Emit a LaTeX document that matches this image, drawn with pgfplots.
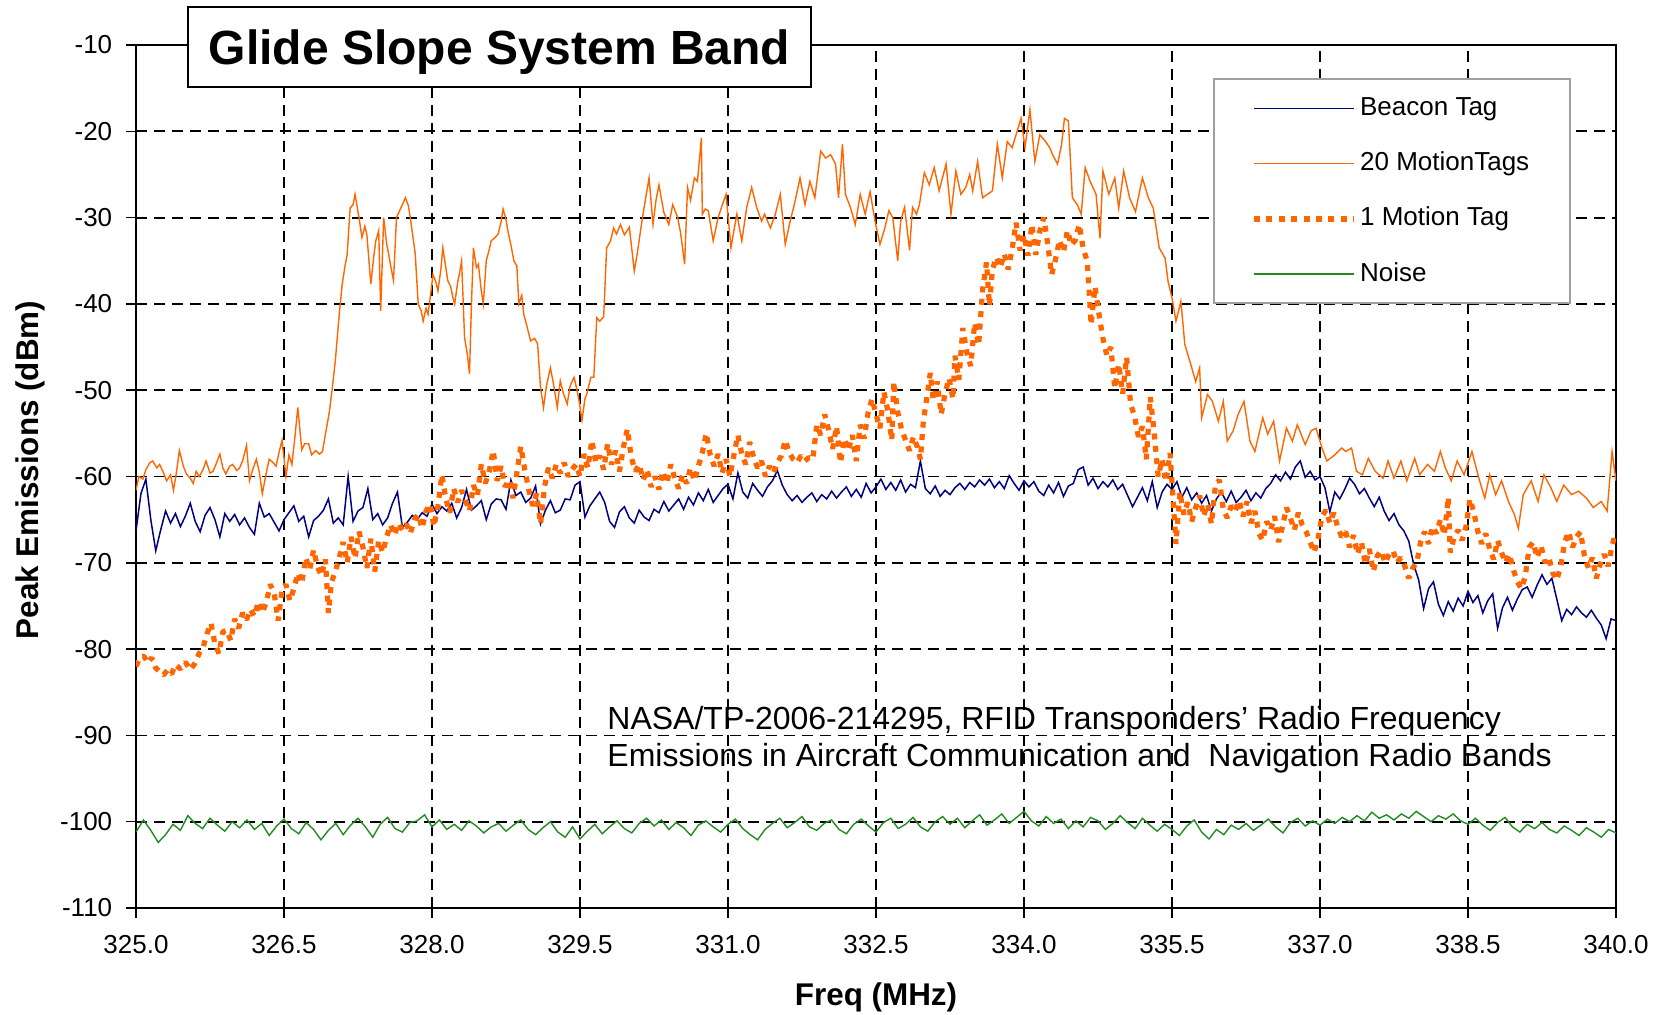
\documentclass[border=0pt]{standalone}
\usepackage{fontspec}
\setmainfont{Liberation Sans}
\usepackage{pgfplots}
\pgfplotsset{compat=1.18}
\definecolor{navyc}{RGB}{0,0,128}
\definecolor{orng}{RGB}{255,102,0}
\definecolor{grn}{RGB}{34,139,34}
\definecolor{legframe}{RGB}{160,160,160}
\begin{document}
\begin{tikzpicture}
\useasboundingbox (0,0) rectangle (833pt,507pt);
\begin{axis}[
  at={(68pt,53pt)}, anchor=south west,
  scale only axis, width=740pt, height=431.5pt,
  xmin=325, xmax=340, ymin=-110, ymax=-10,
  xtick={325,326.5,328,329.5,331,332.5,334,335.5,337,338.5,340},
  ytick={-110,-100,-90,-80,-70,-60,-50,-40,-30,-20,-10},
  /pgf/number format/assume math mode=true,
  xticklabel style={/pgf/number format/.cd, fixed, fixed zerofill, precision=1, /tikz/.cd, inner sep=0pt, yshift=-8.7pt},
  yticklabel style={inner sep=0pt, xshift=-6.7pt},
  ticklabel style={font=\fontsize{13}{15}\selectfont},
  xtick pos=left, ytick pos=left,
  tick align=outside, major tick length=5pt,
  tick style={black, line width=0.75pt},
  axis line style={black, line width=1pt},
  grid=major,
  major grid style={black, line width=0.9pt, dash pattern=on 5.3pt off 3.7pt},
  xlabel={Freq (MHz)},
  ylabel={Peak Emissions (dBm)},
  xlabel style={at={(axis description cs:0.5,-0.1031)}, anchor=center, font=\fontsize{15.7}{18}\selectfont\bfseries},
  ylabel style={at={(axis description cs:-0.0715,0.5075)}, anchor=center, font=\fontsize{15.7}{18}\selectfont\bfseries},
  legend image code/.code={\draw[#1] (0pt,0pt) -- (50pt,0pt);},
  legend cell align=left,
  legend style={at={(0.728,0.9614)}, anchor=north west, draw=legframe, line width=1pt,
    font=\fontsize{13}{15}\selectfont, inner xsep=18.5pt, inner ysep=6.85pt, row sep=12.1pt,
    nodes={inner sep=1.75pt, text height=9.5pt, text depth=2.5pt}},
]
\addplot[navyc, line width=0.75pt] coordinates {
(325.00,-66.3)(325.05,-62.0)(325.10,-60.3)(325.15,-65.0)(325.20,-68.6)(325.25,-66.2)(325.30,-64.0)(325.35,-65.4)(325.40,-64.3)(325.45,-65.8)
(325.50,-64.6)(325.55,-63.1)(325.60,-65.2)(325.65,-66.4)(325.70,-64.5)(325.75,-63.6)(325.80,-65.0)(325.85,-67.0)(325.90,-64.3)(325.95,-65.2)
(326.00,-64.4)(326.05,-65.6)(326.10,-64.8)(326.15,-65.9)(326.20,-66.7)(326.25,-63.1)(326.30,-64.7)(326.35,-64.3)(326.40,-65.3)(326.45,-66.3)
(326.50,-65.0)(326.55,-64.2)(326.60,-63.4)(326.65,-65.2)(326.70,-64.6)(326.75,-67.0)(326.80,-65.1)(326.85,-64.6)(326.90,-63.9)(326.95,-62.6)
(327.00,-65.4)(327.05,-64.8)(327.10,-65.6)(327.15,-60.0)(327.20,-65.2)(327.25,-64.0)(327.30,-63.6)(327.35,-61.4)(327.40,-65.0)(327.45,-64.3)
(327.50,-65.6)(327.55,-64.8)(327.60,-63.1)(327.65,-61.8)(327.70,-65.9)(327.75,-65.3)(327.80,-64.5)(327.85,-65.0)(327.90,-64.2)(327.95,-64.6)
(328.00,-63.2)(328.05,-64.3)(328.10,-63.5)(328.15,-64.0)(328.20,-63.1)(328.25,-64.8)(328.30,-63.6)(328.35,-61.5)(328.40,-63.9)(328.45,-63.4)
(328.50,-62.8)(328.55,-65.0)(328.60,-63.2)(328.65,-62.6)(328.70,-62.7)(328.75,-63.8)(328.80,-60.4)(328.85,-62.2)(328.90,-61.8)(328.95,-63.0)
(329.00,-62.5)(329.05,-61.1)(329.10,-65.5)(329.15,-63.9)(329.20,-62.8)(329.25,-64.2)(329.30,-63.9)(329.35,-62.6)(329.40,-62.7)(329.45,-61.0)
(329.50,-60.6)(329.55,-64.7)(329.60,-63.4)(329.65,-62.6)(329.70,-61.8)(329.75,-63.0)(329.80,-65.2)(329.85,-65.9)(329.90,-64.1)(329.95,-63.5)
(330.00,-64.8)(330.05,-65.4)(330.10,-63.9)(330.15,-64.7)(330.20,-65.1)(330.25,-63.8)(330.30,-64.2)(330.35,-62.9)(330.40,-64.0)(330.45,-63.3)
(330.50,-62.6)(330.55,-63.8)(330.60,-62.4)(330.65,-63.3)(330.70,-61.9)(330.75,-62.8)(330.80,-61.5)(330.85,-63.0)(330.90,-62.2)(330.95,-61.4)
(331.00,-60.9)(331.05,-62.6)(331.10,-59.6)(331.15,-61.8)(331.20,-62.5)(331.25,-60.8)(331.30,-61.6)(331.35,-62.3)(331.40,-61.2)(331.45,-60.5)
(331.50,-59.3)(331.55,-61.0)(331.60,-62.1)(331.65,-62.8)(331.70,-62.2)(331.75,-63.0)(331.80,-62.4)(331.85,-61.9)(331.90,-62.9)(331.95,-62.1)
(332.00,-62.6)(332.05,-61.7)(332.10,-62.5)(332.15,-61.8)(332.20,-61.2)(332.25,-62.3)(332.30,-61.5)(332.35,-62.4)(332.40,-60.8)(332.45,-61.9)
(332.50,-61.2)(332.55,-60.3)(332.60,-61.5)(332.65,-60.7)(332.70,-61.6)(332.75,-60.4)(332.80,-61.8)(332.85,-60.9)(332.90,-61.3)(332.95,-58.2)
(333.00,-61.4)(333.05,-62.0)(333.10,-61.1)(333.15,-62.3)(333.20,-61.6)(333.25,-62.1)(333.30,-61.3)(333.35,-60.8)(333.40,-61.5)(333.45,-60.7)
(333.50,-61.2)(333.55,-60.4)(333.60,-61.0)(333.65,-60.3)(333.70,-61.3)(333.75,-60.6)(333.80,-61.4)(333.85,-59.9)(333.90,-60.8)(333.95,-61.6)
(334.00,-60.5)(334.05,-61.2)(334.10,-60.6)(334.15,-61.7)(334.20,-62.2)(334.25,-61.0)(334.30,-61.9)(334.35,-60.7)(334.40,-62.3)(334.45,-61.1)
(334.50,-60.8)(334.55,-59.2)(334.60,-58.9)(334.65,-61.0)(334.70,-60.2)(334.75,-61.4)(334.80,-60.6)(334.85,-61.2)(334.90,-60.4)(334.95,-61.5)
(335.00,-60.9)(335.05,-62.2)(335.10,-63.5)(335.15,-62.4)(335.20,-61.3)(335.25,-62.8)(335.30,-60.6)(335.35,-63.6)(335.40,-61.8)(335.45,-60.9)
(335.50,-61.5)(335.55,-60.6)(335.60,-62.4)(335.65,-61.3)(335.70,-62.7)(335.75,-61.9)(335.80,-63.1)(335.85,-62.2)(335.90,-64.0)(335.95,-62.6)
(336.00,-61.8)(336.05,-62.9)(336.10,-61.7)(336.15,-63.0)(336.20,-62.4)(336.25,-61.6)(336.30,-62.8)(336.35,-61.9)(336.40,-62.5)(336.45,-61.4)
(336.50,-60.8)(336.55,-59.8)(336.60,-60.5)(336.65,-59.5)(336.70,-60.3)(336.75,-58.9)(336.80,-58.2)(336.85,-60.1)(336.90,-59.4)(336.95,-60.4)
(337.00,-60.0)(337.05,-61.3)(337.10,-64.1)(337.15,-61.8)(337.20,-62.6)(337.25,-61.5)(337.30,-60.2)(337.35,-60.9)(337.40,-62.0)(337.45,-61.4)
(337.50,-62.5)(337.55,-63.5)(337.60,-62.4)(337.65,-64.0)(337.70,-65.1)(337.75,-64.3)(337.80,-65.6)(337.85,-66.3)(337.90,-67.5)(337.95,-70.2)
(338.00,-72.0)(338.05,-75.3)(338.10,-73.0)(338.15,-72.2)(338.20,-74.8)(338.25,-76.1)(338.30,-74.5)(338.35,-75.6)(338.40,-74.1)(338.45,-75.0)
(338.50,-73.3)(338.55,-74.6)(338.60,-73.8)(338.65,-75.8)(338.70,-74.4)(338.75,-73.6)(338.80,-77.6)(338.85,-75.2)(338.90,-74.0)(338.95,-75.5)
(339.00,-74.2)(339.05,-73.1)(339.10,-72.8)(339.15,-74.0)(339.20,-72.6)(339.25,-71.4)(339.30,-72.5)(339.35,-71.8)(339.40,-74.2)(339.45,-76.7)
(339.50,-75.4)(339.55,-76.0)(339.60,-75.1)(339.65,-75.8)(339.70,-76.3)(339.75,-75.5)(339.80,-76.4)(339.85,-77.2)(339.90,-78.8)(339.95,-76.5)
(340.00,-76.7)
};
\addlegendentry{Beacon Tag}
\addplot[orng, line width=0.7pt] coordinates {
(325.00,-61.6)(325.03,-60.0)(325.07,-60.3)(325.10,-59.2)(325.14,-58.4)(325.17,-58.2)(325.21,-59.0)(325.24,-58.6)(325.28,-59.6)(325.31,-60.5)
(325.35,-59.8)(325.38,-61.6)(325.41,-59.5)(325.44,-57.0)(325.48,-58.8)(325.51,-59.7)(325.55,-60.2)(325.58,-60.8)(325.61,-59.4)(325.64,-60.0)
(325.68,-59.2)(325.71,-58.2)(325.75,-59.6)(325.78,-59.4)(325.81,-58.6)(325.85,-57.4)(325.88,-59.0)(325.91,-59.7)(325.95,-58.8)(325.98,-58.6)
(326.02,-59.3)(326.05,-59.0)(326.08,-58.2)(326.12,-56.4)(326.15,-60.5)(326.18,-59.3)(326.22,-58.0)(326.25,-59.5)(326.28,-62.0)(326.32,-59.6)
(326.35,-58.0)(326.39,-58.4)(326.42,-58.8)(326.45,-57.2)(326.48,-55.8)(326.52,-60.0)(326.55,-57.5)(326.58,-58.6)(326.61,-55.5)(326.64,-52.0)
(326.68,-56.9)(326.71,-56.2)(326.75,-56.2)(326.78,-57.5)(326.82,-57.0)(326.86,-57.4)(326.89,-57.1)(326.92,-55.1)(326.96,-52.5)(326.99,-49.7)
(327.02,-46.6)(327.06,-41.2)(327.09,-37.7)(327.12,-35.5)(327.14,-34.3)(327.17,-28.9)(327.20,-28.5)(327.22,-27.3)(327.26,-30.0)(327.29,-32.3)
(327.32,-31.0)(327.34,-32.0)(327.38,-37.7)(327.41,-34.5)(327.43,-32.7)(327.46,-31.5)(327.48,-40.8)(327.51,-30.0)(327.54,-33.0)(327.56,-34.2)
(327.58,-35.5)(327.61,-37.3)(327.64,-30.0)(327.68,-29.0)(327.70,-28.5)(327.73,-27.7)(327.76,-28.6)(327.78,-30.0)(327.81,-32.5)(327.83,-34.2)
(327.86,-40.0)(327.89,-40.8)(327.91,-42.0)(327.94,-40.5)(327.96,-41.2)(327.99,-38.5)(328.01,-36.6)(328.04,-37.5)(328.06,-38.5)(328.09,-36.0)
(328.11,-33.5)(328.14,-35.8)(328.16,-37.3)(328.19,-38.0)(328.21,-39.2)(328.23,-40.0)(328.26,-37.5)(328.28,-36.4)(328.30,-35.0)(328.33,-43.9)
(328.36,-46.0)(328.38,-48.1)(328.40,-40.0)(328.42,-33.5)(328.45,-35.8)(328.47,-35.4)(328.50,-38.5)(328.52,-40.0)(328.55,-35.0)(328.58,-33.7)
(328.60,-32.7)(328.64,-32.3)(328.67,-31.9)(328.70,-30.5)(328.72,-29.0)(328.75,-30.2)(328.77,-31.6)(328.80,-33.2)(328.83,-35.0)(328.86,-35.6)
(328.88,-40.0)(328.91,-39.0)(328.93,-41.2)(328.96,-42.5)(329.00,-44.3)(329.04,-44.0)(329.07,-44.6)(329.10,-49.7)(329.13,-52.0)(329.16,-49.5)
(329.20,-47.4)(329.23,-49.2)(329.27,-52.0)(329.30,-48.9)(329.33,-50.3)(329.37,-51.6)(329.40,-49.5)(329.44,-48.5)(329.47,-50.0)(329.49,-51.2)
(329.52,-53.5)(329.55,-51.0)(329.57,-50.4)(329.61,-48.5)(329.64,-48.5)(329.67,-41.6)(329.70,-42.0)(329.74,-41.5)(329.77,-33.5)(329.81,-32.7)
(329.84,-31.2)(329.87,-31.9)(329.91,-30.8)(329.95,-32.0)(330.00,-31.1)(330.05,-36.2)(330.08,-34.2)(330.12,-31.0)(330.15,-28.8)(330.20,-25.4)
(330.24,-30.8)(330.27,-28.0)(330.30,-26.2)(330.35,-29.4)(330.40,-30.8)(330.44,-28.5)(330.49,-30.0)(330.52,-31.8)(330.56,-35.4)(330.59,-26.5)
(330.62,-28.0)(330.66,-25.4)(330.69,-25.8)(330.73,-20.8)(330.74,-29.6)(330.77,-29.0)(330.80,-29.2)(330.85,-32.7)(330.90,-30.0)(330.94,-28.6)
(330.98,-27.3)(331.03,-33.5)(331.06,-31.5)(331.09,-29.6)(331.14,-32.7)(331.19,-28.8)(331.24,-26.5)(331.29,-28.8)(331.34,-30.4)(331.37,-29.6)
(331.43,-31.2)(331.48,-29.6)(331.53,-27.3)(331.58,-33.1)(331.63,-30.4)(331.68,-28.1)(331.73,-25.4)(331.78,-28.5)(331.83,-25.8)(331.88,-27.7)
(331.94,-22.3)(331.99,-23.1)(332.04,-22.7)(332.09,-23.8)(332.12,-27.7)(332.16,-21.5)(332.19,-27.3)(332.24,-28.8)(332.29,-30.8)(332.34,-27.3)
(332.39,-29.6)(332.44,-27.0)(332.49,-30.4)(332.54,-33.1)(332.59,-31.2)(332.63,-29.2)(332.67,-30.0)(332.72,-35.0)(332.75,-30.4)(332.79,-28.8)
(332.84,-33.8)(332.87,-28.8)(332.91,-29.6)(332.94,-28.5)(332.99,-24.8)(333.04,-26.2)(333.09,-24.2)(333.14,-26.9)(333.21,-23.8)(333.26,-29.6)
(333.31,-24.6)(333.36,-27.3)(333.41,-26.5)(333.45,-25.0)(333.48,-26.9)(333.53,-23.5)(333.58,-27.7)(333.63,-27.3)(333.68,-26.9)(333.73,-21.5)
(333.78,-25.4)(333.83,-21.2)(333.88,-21.9)(333.93,-20.0)(333.97,-18.5)(334.01,-21.9)(334.06,-17.5)(334.11,-23.5)(334.16,-20.4)(334.22,-21.2)
(334.26,-21.9)(334.29,-22.7)(334.34,-23.8)(334.38,-21.6)(334.41,-18.5)(334.45,-18.8)(334.49,-27.7)(334.54,-28.5)(334.58,-29.6)(334.62,-24.2)
(334.67,-25.8)(334.73,-27.3)(334.77,-32.4)(334.80,-24.6)(334.86,-27.3)(334.92,-25.4)(334.96,-28.9)(335.01,-24.6)(335.07,-27.7)(335.13,-29.3)
(335.20,-25.4)(335.26,-27.7)(335.31,-28.9)(335.37,-33.5)(335.43,-34.7)(335.46,-37.4)(335.50,-39.3)(335.54,-42.0)(335.59,-39.7)(335.63,-44.7)
(335.69,-47.0)(335.74,-49.0)(335.78,-47.4)(335.80,-53.2)(335.86,-50.5)(335.91,-51.3)(335.97,-53.6)(336.02,-51.3)(336.06,-55.9)(336.12,-54.7)
(336.17,-52.8)(336.23,-51.3)(336.29,-55.9)(336.34,-57.1)(336.42,-53.2)(336.47,-55.1)(336.53,-53.6)(336.59,-58.2)(336.66,-54.4)(336.72,-55.9)
(336.77,-54.0)(336.85,-56.3)(336.91,-54.7)(336.96,-54.4)(337.02,-56.7)(337.07,-58.2)(337.15,-57.5)(337.22,-56.7)(337.26,-57.1)(337.32,-56.7)
(337.37,-59.4)(337.43,-59.8)(337.49,-57.9)(337.56,-59.4)(337.64,-60.2)(337.69,-58.2)(337.75,-60.2)(337.82,-58.2)(337.88,-60.5)(337.96,-57.9)
(338.01,-59.8)(338.09,-58.6)(338.16,-59.4)(338.22,-57.1)(338.27,-59.0)(338.33,-60.5)(338.39,-58.2)(338.46,-59.8)(338.54,-57.1)(338.61,-60.2)
(338.67,-62.5)(338.72,-59.8)(338.78,-62.1)(338.84,-60.5)(338.91,-62.9)(338.97,-64.4)(339.01,-66.0)(339.06,-62.1)(339.14,-60.5)(339.21,-62.9)
(339.27,-59.8)(339.34,-61.3)(339.40,-62.9)(339.47,-61.0)(339.55,-62.1)(339.62,-61.7)(339.70,-62.5)(339.77,-63.6)(339.85,-62.9)(339.91,-64.0)
(339.96,-57.1)(340.00,-60.5)
};
\addlegendentry{20 MotionTags}
\addplot[orng, line width=2.6pt, line join=bevel, line cap=butt, dash pattern=on 3pt off 3.2pt] coordinates {
(325.00,-82.0)(325.04,-81.0)(325.08,-80.8)(325.12,-81.6)(325.16,-81.0)(325.20,-82.2)(325.24,-82.6)(325.28,-83.0)(325.32,-82.4)(325.36,-82.9)
(325.40,-81.8)(325.45,-82.3)(325.50,-81.5)(325.55,-82.4)(325.60,-81.6)(325.64,-80.5)(325.68,-79.8)(325.72,-78.2)(325.76,-77.0)(325.80,-79.4)
(325.84,-80.5)(325.88,-78.0)(325.92,-77.8)(325.96,-79.0)(326.00,-76.5)(326.04,-77.6)(326.08,-75.8)(326.12,-76.6)(326.16,-75.4)(326.20,-76.2)
(326.24,-74.5)(326.28,-75.8)(326.32,-74.6)(326.36,-72.5)(326.40,-73.5)(326.44,-76.7)(326.48,-73.2)(326.52,-72.5)(326.56,-74.4)(326.60,-73.0)
(326.64,-71.2)(326.68,-72.4)(326.72,-69.4)(326.76,-70.8)(326.80,-68.5)(326.84,-70.5)(326.88,-71.5)(326.92,-69.6)(326.95,-75.8)(326.98,-72.3)
(327.02,-71.0)(327.06,-69.4)(327.10,-67.6)(327.14,-70.0)(327.18,-67.0)(327.22,-69.5)(327.26,-66.4)(327.30,-68.2)(327.34,-70.6)(327.38,-67.2)
(327.42,-71.0)(327.46,-67.4)(327.50,-68.8)(327.54,-67.0)(327.58,-65.6)(327.62,-66.8)(327.66,-65.4)(327.70,-66.2)(327.74,-65.5)(327.78,-66.6)
(327.82,-65.0)(327.86,-64.4)(327.90,-66.0)(327.94,-64.0)(327.98,-63.2)(328.02,-65.8)(328.06,-63.4)(328.10,-59.8)(328.14,-62.6)(328.18,-64.2)
(328.22,-61.4)(328.26,-63.0)(328.30,-61.6)(328.34,-62.8)(328.38,-64.0)(328.42,-61.0)(328.46,-62.2)(328.50,-58.6)(328.54,-60.8)(328.58,-59.4)
(328.62,-57.0)(328.66,-60.5)(328.70,-58.8)(328.74,-61.2)(328.78,-60.4)(328.82,-62.5)(328.86,-59.6)(328.90,-56.5)(328.94,-59.2)(328.98,-61.5)
(329.02,-63.4)(329.06,-62.0)(329.10,-65.5)(329.14,-61.2)(329.18,-59.0)(329.22,-60.2)(329.26,-58.6)(329.30,-59.6)(329.34,-58.4)(329.38,-60.0)
(329.42,-59.2)(329.46,-58.6)(329.50,-60.0)(329.54,-57.4)(329.58,-59.0)(329.62,-55.8)(329.66,-58.4)(329.70,-57.6)(329.74,-59.2)(329.78,-56.2)
(329.82,-58.6)(329.86,-57.0)(329.90,-59.4)(329.94,-56.6)(329.98,-54.5)(330.02,-57.8)(330.06,-59.4)(330.10,-58.6)(330.14,-60.4)(330.18,-59.2)
(330.22,-61.2)(330.26,-60.0)(330.30,-61.5)(330.34,-59.4)(330.38,-60.8)(330.42,-58.6)(330.46,-60.2)(330.50,-61.4)(330.54,-59.8)(330.58,-60.8)
(330.62,-59.0)(330.66,-60.5)(330.70,-58.8)(330.74,-57.2)(330.78,-55.0)(330.82,-57.5)(330.86,-58.8)(330.90,-57.4)(330.94,-59.6)(330.98,-58.0)
(331.02,-60.0)(331.06,-57.5)(331.10,-55.2)(331.14,-57.4)(331.18,-58.6)(331.22,-56.0)(331.26,-57.8)(331.30,-59.0)(331.34,-58.2)(331.38,-60.0)
(331.42,-58.8)(331.46,-59.6)(331.50,-58.4)(331.54,-57.6)(331.58,-55.8)(331.62,-57.2)(331.66,-58.0)(331.70,-58.4)(331.74,-57.6)(331.78,-58.2)
(331.82,-57.8)(331.86,-58.0)(331.90,-54.0)(331.94,-55.2)(331.98,-52.8)(332.02,-54.6)(332.06,-56.8)(332.10,-54.2)(332.14,-58.4)(332.18,-55.6)
(332.22,-57.0)(332.26,-55.2)(332.30,-58.2)(332.34,-54.0)(332.38,-55.6)(332.42,-52.6)(332.46,-51.0)(332.50,-52.8)(332.54,-54.4)(332.58,-50.2)
(332.62,-52.4)(332.66,-55.8)(332.68,-49.0)(332.72,-52.5)(332.76,-54.6)(332.80,-55.8)(332.84,-57.0)(332.88,-55.4)(332.92,-56.6)(332.95,-58.0)
(332.98,-53.6)(333.02,-50.5)(333.05,-48.0)(333.08,-51.2)(333.12,-49.0)(333.16,-52.8)(333.20,-50.4)(333.24,-48.6)(333.28,-51.0)(333.30,-46.0)
(333.34,-48.8)(333.38,-42.8)(333.42,-45.6)(333.46,-47.2)(333.50,-42.2)(333.54,-44.8)(333.58,-38.4)(333.62,-35.2)(333.65,-40.2)(333.68,-36.0)
(333.72,-34.6)(333.76,-35.8)(333.80,-34.2)(333.84,-36.0)(333.88,-33.6)(333.92,-30.6)(333.96,-33.8)(334.00,-32.0)(334.04,-34.4)(334.08,-30.8)
(334.12,-34.3)(334.16,-31.6)(334.20,-30.0)(334.24,-33.0)(334.28,-36.6)(334.32,-34.8)(334.36,-32.6)(334.40,-34.0)(334.44,-31.5)(334.48,-33.2)
(334.52,-32.6)(334.56,-30.8)(334.60,-33.6)(334.64,-35.0)(334.66,-38.5)(334.68,-42.4)(334.72,-38.0)(334.76,-41.2)(334.80,-44.0)(334.84,-46.0)
(334.88,-45.0)(334.92,-49.8)(334.96,-47.0)(335.00,-50.4)(335.04,-46.2)(335.08,-51.6)(335.12,-53.0)(335.16,-55.4)(335.20,-54.2)(335.24,-58.0)
(335.28,-50.8)(335.32,-55.0)(335.36,-60.0)(335.40,-58.0)(335.44,-60.6)(335.48,-57.3)(335.51,-62.5)(335.54,-67.8)(335.58,-61.8)(335.62,-64.4)
(335.66,-63.0)(335.70,-65.2)(335.74,-63.6)(335.78,-62.2)(335.82,-64.6)(335.86,-63.2)(335.90,-65.5)(335.94,-61.0)(335.98,-60.4)(336.02,-63.8)
(336.06,-64.8)(336.10,-63.4)(336.14,-64.0)(336.18,-62.8)(336.22,-64.6)(336.26,-62.9)(336.30,-65.4)(336.34,-64.0)(336.38,-66.6)(336.42,-67.4)
(336.46,-65.2)(336.50,-66.2)(336.54,-64.6)(336.58,-67.6)(336.62,-65.8)(336.66,-63.6)(336.70,-64.8)(336.74,-66.2)(336.78,-64.2)(336.82,-65.6)
(336.86,-66.4)(336.90,-67.6)(336.94,-68.8)(336.98,-67.2)(337.02,-64.6)(337.06,-63.9)(337.10,-65.4)(337.14,-64.2)(337.18,-65.9)(337.22,-67.0)
(337.26,-66.4)(337.30,-68.2)(337.34,-66.8)(337.38,-69.0)(337.42,-67.6)(337.46,-70.2)(337.50,-68.4)(337.54,-71.0)(337.58,-69.2)(337.62,-68.6)
(337.66,-70.0)(337.70,-69.0)(337.74,-68.6)(337.78,-70.0)(337.82,-69.4)(337.86,-70.4)(337.90,-71.8)(337.94,-70.6)(337.98,-70.0)(338.02,-67.6)
(338.06,-66.4)(338.10,-67.8)(338.14,-65.8)(338.18,-66.6)(338.22,-65.0)(338.26,-66.8)(338.30,-62.4)(338.32,-68.8)(338.36,-67.0)(338.40,-66.2)
(338.44,-67.4)(338.48,-65.8)(338.52,-62.6)(338.56,-64.2)(338.60,-66.4)(338.64,-67.8)(338.68,-66.6)(338.72,-68.4)(338.76,-69.6)(338.80,-67.4)
(338.84,-68.8)(338.88,-70.0)(338.92,-69.0)(338.96,-70.8)(339.00,-72.2)(339.04,-73.0)(339.08,-71.6)(339.12,-68.2)(339.16,-67.6)(339.20,-69.4)
(339.24,-68.0)(339.28,-70.0)(339.32,-69.4)(339.36,-71.2)(339.40,-72.0)(339.44,-70.4)(339.48,-67.6)(339.52,-66.4)(339.56,-68.2)(339.60,-67.0)
(339.64,-66.4)(339.68,-69.2)(339.72,-70.6)(339.76,-69.4)(339.80,-71.8)(339.84,-70.2)(339.88,-69.0)(339.92,-70.4)(339.96,-68.0)(340.00,-66.4)
};
\addlegendentry{1 Motion Tag}
\addplot[grn, line width=0.7pt] coordinates {
(325.000,-101.2)(325.075,-99.8)(325.150,-101.0)(325.225,-102.4)(325.300,-101.5)(325.375,-100.3)(325.450,-101.0)(325.525,-99.3)(325.600,-100.2)(325.675,-100.8)
(325.750,-99.6)(325.825,-100.4)(325.900,-101.1)(325.975,-100.0)(326.050,-100.7)(326.125,-99.8)(326.200,-100.9)(326.275,-100.2)(326.350,-101.6)(326.425,-100.5)
(326.500,-99.7)(326.575,-100.8)(326.650,-101.4)(326.725,-100.1)(326.800,-100.9)(326.875,-102.1)(326.950,-101.0)(327.025,-100.2)(327.100,-101.5)(327.175,-100.4)
(327.250,-99.6)(327.325,-100.6)(327.400,-101.8)(327.475,-100.3)(327.550,-99.5)(327.625,-100.8)(327.700,-101.2)(327.775,-100.1)(327.850,-99.9)(327.925,-99.2)
(328.000,-100.6)(328.075,-99.8)(328.150,-100.9)(328.225,-100.3)(328.300,-101.0)(328.375,-99.9)(328.450,-100.5)(328.525,-101.3)(328.600,-100.6)(328.675,-100.2)
(328.750,-101.1)(328.825,-100.4)(328.900,-99.8)(328.975,-100.9)(329.050,-101.5)(329.125,-100.7)(329.200,-100.0)(329.275,-101.2)(329.350,-101.8)(329.425,-100.6)
(329.500,-102.0)(329.575,-101.1)(329.650,-100.3)(329.725,-101.4)(329.800,-100.6)(329.875,-99.9)(329.950,-100.8)(330.025,-101.3)(330.100,-100.2)(330.175,-99.6)
(330.250,-100.5)(330.325,-99.8)(330.400,-100.9)(330.475,-100.1)(330.550,-100.7)(330.625,-101.6)(330.700,-100.4)(330.775,-99.9)(330.850,-100.6)(330.925,-101.2)
(331.000,-100.3)(331.075,-99.7)(331.150,-100.8)(331.225,-101.5)(331.300,-102.1)(331.375,-100.9)(331.450,-100.2)(331.525,-99.6)(331.600,-100.7)(331.675,-100.1)
(331.750,-99.4)(331.825,-100.6)(331.900,-101.0)(331.975,-100.2)(332.050,-99.8)(332.125,-100.9)(332.200,-101.4)(332.275,-100.3)(332.350,-99.7)(332.425,-100.5)
(332.500,-101.2)(332.575,-100.1)(332.650,-99.6)(332.725,-100.8)(332.800,-100.3)(332.875,-99.5)(332.950,-100.6)(333.025,-101.1)(333.100,-100.0)(333.175,-99.4)
(333.250,-100.3)(333.325,-99.6)(333.400,-100.7)(333.475,-99.9)(333.550,-99.2)(333.625,-100.4)(333.700,-99.8)(333.775,-99.1)(333.850,-100.2)(333.925,-99.5)
(334.000,-98.8)(334.075,-99.9)(334.150,-100.5)(334.225,-99.4)(334.300,-100.2)(334.375,-99.7)(334.450,-100.8)(334.525,-99.9)(334.600,-100.6)(334.675,-99.5)
(334.750,-99.9)(334.825,-100.9)(334.900,-100.2)(334.975,-99.3)(335.050,-100.1)(335.125,-100.8)(335.200,-99.6)(335.275,-100.4)(335.350,-101.1)(335.425,-100.3)
(335.500,-100.9)(335.575,-101.6)(335.650,-100.5)(335.725,-99.8)(335.800,-101.2)(335.875,-102.0)(335.950,-100.9)(336.025,-101.5)(336.100,-100.4)(336.175,-100.9)
(336.250,-100.2)(336.325,-101.0)(336.400,-100.4)(336.475,-99.7)(336.550,-100.6)(336.625,-101.3)(336.700,-100.1)(336.775,-99.6)(336.850,-100.5)(336.925,-99.9)
(337.000,-100.4)(337.075,-99.7)(337.150,-100.2)(337.225,-99.5)(337.300,-100.0)(337.375,-99.3)(337.450,-99.9)(337.525,-98.9)(337.600,-99.6)(337.675,-99.2)
(337.750,-99.8)(337.825,-99.1)(337.900,-99.6)(337.975,-98.8)(338.050,-99.4)(338.125,-100.0)(338.200,-99.3)(338.275,-99.7)(338.350,-99.1)(338.425,-99.9)
(338.500,-100.3)(338.575,-99.6)(338.650,-100.4)(338.725,-101.0)(338.800,-100.1)(338.875,-99.5)(338.950,-100.6)(339.025,-101.2)(339.100,-100.3)(339.175,-100.8)
(339.250,-100.1)(339.325,-100.9)(339.400,-101.3)(339.475,-100.5)(339.550,-101.0)(339.625,-101.6)(339.700,-100.7)(339.775,-101.2)(339.850,-101.8)(339.925,-100.9)(340.000,-101.3)
};
\addlegendentry{Noise}
\node[anchor=west, align=left, inner sep=0pt, font=\fontsize{16}{18.6}\selectfont] at (axis cs:329.774,-90.53)
  {NASA/TP-2006-214295, RFID Transponders’ Radio Frequency\\Emissions in Aircraft Communication and\ \ Navigation Radio Bands};
\end{axis}
\node[draw=black, line width=1pt, fill=white, inner sep=0pt, text depth=0pt, minimum width=311.5pt, minimum height=39.75pt,
  font=\fontsize{24}{28}\selectfont\bfseries] at (249.75pt,483.4pt) {Glide Slope System Band};
\end{tikzpicture}
\end{document}
